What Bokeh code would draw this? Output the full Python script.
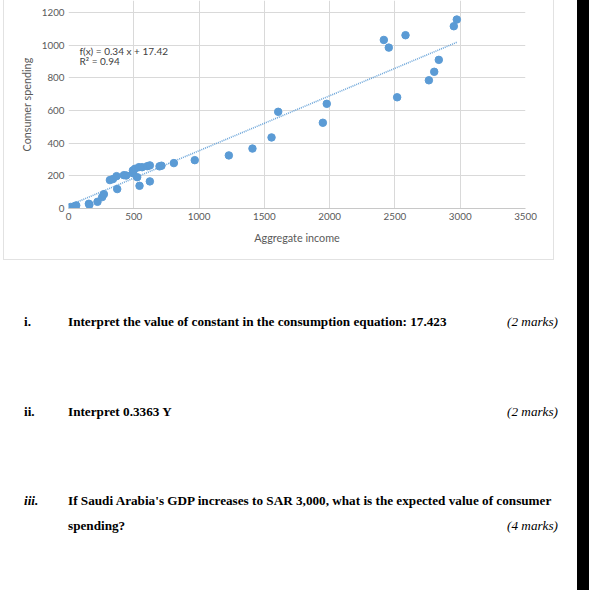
from bokeh.plotting import figure
from bokeh.models import Range1d, FixedTicker, Label, Div, Spacer
from bokeh.layouts import row, column
from bokeh.embed import file_html
from bokeh.resources import INLINE

# ---- data ----
income = [15, 41, 59, 156, 160, 222, 258, 271, 317, 340, 368, 373, 424, 442,
          493, 509, 493, 526, 544, 539, 564, 603, 623, 623, 697, 712, 807, 967,
          1228, 1409, 1555, 1606, 1948, 1978, 2415, 2453, 2581, 2517, 2760,
          2801, 2836, 2951, 2974]
spending = [9, 13, 19, 29, 23, 41, 70, 88, 174, 180, 198, 119, 204, 202,
            233, 243, 216, 192, 139, 253, 253, 259, 264, 166, 258, 262, 278, 296,
            325, 367, 435, 592, 525, 641, 1032, 985, 1061, 681, 785,
            837, 910, 1116, 1157]
slope = 0.3363
intercept = 17.423
x_ticks = [0, 500, 1000, 1500, 2000, 2500, 3000, 3500]
y_ticks = [0, 200, 400, 600, 800, 1000, 1200]
eq_text = "f(x) = 0.34 x + 17.42"
r2_text = "R\u00b2 = 0.94"
x_title = "Aggregate income"
y_title = "Consumer spending"

numbers = ["i.", "ii.", "iii.", ""]
bodies = ["Interpret the value of constant in the consumption equation: 17.423",
          "Interpret 0.3363 Y",
          "If Saudi Arabia's GDP increases to SAR 3,000, what is the expected value of consumer",
          "spending?"]
marks = ["(2 marks)", "(2 marks)", "", "(4 marks)"]

BLUE = "#5b9bd5"
GRID = "#d9d9d9"
LBL = "#595959"
EDGE = "#e2e2e2"
FONT = "Lato"
SERIF = "Liberation Serif"

# ---- chart ----
CW, CH = 549, 259
p = figure(width=CW, height=CH, x_range=Range1d(0, 3500), y_range=Range1d(0, 1273.5),
           output_backend="svg", toolbar_location=None,
           min_border_left=64, min_border_right=28, min_border_top=0, min_border_bottom=51)
p.outline_line_color = None
p.background_fill_color = "white"
p.border_fill_color = "white"

p.xaxis.ticker = FixedTicker(ticks=x_ticks)
p.yaxis.ticker = FixedTicker(ticks=y_ticks)
for ax in (p.xaxis[0], p.yaxis[0]):
    ax.major_tick_line_color = None
    ax.minor_tick_line_color = None
    ax.major_tick_out = 0
    ax.major_tick_in = 0
    ax.minor_tick_out = 0
    ax.major_label_text_font = FONT
    ax.major_label_text_font_size = "9.8px"
    ax.major_label_text_color = LBL
    ax.axis_label_text_font = FONT
    ax.axis_label_text_font_size = "10.8px"
    ax.axis_label_text_font_style = "normal"
    ax.axis_label_text_color = LBL
p.xaxis.axis_line_color = "#c8c8c8"
p.yaxis.axis_line_color = None
p.xaxis.major_label_standoff = 4
p.yaxis.major_label_standoff = 4
p.xaxis.axis_label = x_title
p.yaxis.axis_label = y_title
p.xaxis.axis_label_standoff = 8
p.yaxis.axis_label_standoff = 6
p.xgrid.grid_line_color = GRID
p.ygrid.grid_line_color = GRID

x0, x1 = min(income), max(income)
p.line([x0, x1], [slope * x0 + intercept, slope * x1 + intercept],
       line_color=BLUE, line_width=1.6, line_dash="1 1", line_alpha=0.9)
p.scatter(income, spending, size=7.5, fill_color=BLUE, line_color=BLUE)

p.add_layout(Label(x=84, y=967, text=eq_text, text_font=FONT, text_font_size="10px",
                   text_color="#404040", text_baseline="middle"))
p.add_layout(Label(x=84, y=906, text=r2_text, text_font=FONT, text_font_size="10px",
                   text_color="#404040", text_baseline="middle"))


def vline(h):
    return Div(width=1, height=h, margin=0, styles={"background-color": EDGE})


top = row(Spacer(width=3, height=CH, margin=0), vline(CH), p, vline(CH),
          Spacer(width=23, height=CH, margin=0), spacing=0)

# ---- question text below the chart ----
TW, TH = 577, 331
rows_y = [321, 411, 500, 525]          # centre of each text line on the page
parts = [f'<div style="position:absolute;left:3px;top:0;width:551px;height:1px;'
         f'background:{EDGE}"></div>']
span = ('<span style="position:absolute;white-space:nowrap;line-height:15px;'
        'font-family:\'{f}\';font-size:13.2px;color:#000;font-weight:{w};'
        'font-style:{s};{pos};top:{t}px">{txt}</span>')
for num, body, mk, cy in zip(numbers, bodies, marks, rows_y):
    tp = cy - 7.5 - CH
    if num:
        parts.append(span.format(f=SERIF, w="bold", s="italic" if num == "iii." else "normal",
                                 pos="left:24px", t=tp, txt=num))
    parts.append(span.format(f=SERIF, w="bold", s="normal", pos="left:68px", t=tp, txt=body))
    if mk:
        parts.append(span.format(f=SERIF, w="normal", s="italic", pos=f"right:{TW - 558}px",
                                 t=tp, txt=mk))
html = (f'<div style="position:absolute;left:0;top:0;width:{TW}px;height:{TH}px;'
        f'margin:0;padding:0">' + "".join(parts) + "</div>")
text_div = Div(text=html, width=TW, height=TH, margin=0,
               styles={"position": "relative", "overflow": "hidden"})

band = Div(width=12, height=CH + TH, margin=0, styles={"background-color": "#000000"})
layout = row(column(top, text_div, spacing=0), band, spacing=0)

open("out.html", "w").write(file_html(layout, INLINE))
